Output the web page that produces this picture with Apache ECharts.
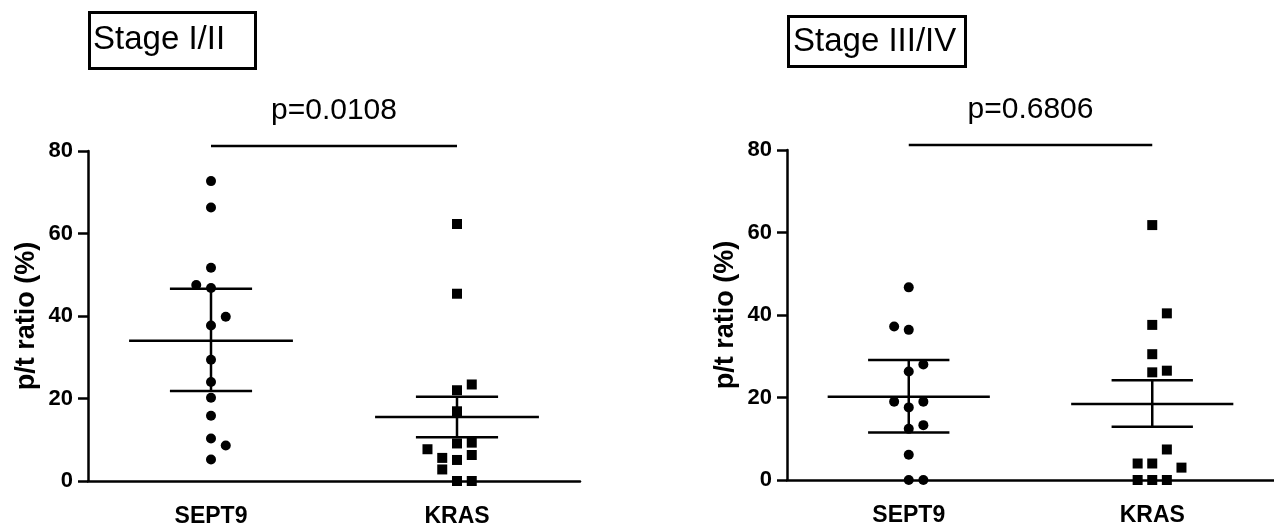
<!DOCTYPE html>
<html>
<head>
<meta charset="utf-8">
<script src="https://cdn.jsdelivr.net/npm/echarts@6/dist/echarts.min.js"></script>
<style>
html,body{margin:0;padding:0;background:#fff;}
#chart{width:1274px;height:531px;}
</style>
</head>
<body>
<div id="chart"></div>
<script>
// ---- data ----
const categories = ['SEPT9', 'KRAS'];
const panelTitles = ['Stage I/II', 'Stage III/IV'];
const pLabels = ['p=0.0108', 'p=0.6806'];
const yMin = 0, yMax = 80, yStep = 20;
const bracketY = 81.2;

// Stage I/II
const s12_sept9 = [72.7, 66.3, 51.7, 47.5, 46.8, 39.8, 37.7, 29.4, 24.0, 20.2, 15.8, 10.3, 8.6, 5.2];
const s12_sept9_lane = [0, 0, 0, -1, 0, 1, 0, 0, 0, 0, 0, 0, 1, 0];
const s12_kras = [62.3, 45.4, 23.4, 22.0, 16.9, 9.1, 9.3, 7.7, 6.3, 5.6, 5.1, 2.8, 0, 0];
const s12_kras_lane = [0, 0, 1, 0, 0, 0, 1, -2, 1, -1, 0, -1, 0, 1];
const s12_mean = [34.0, 15.5];
const s12_lower = [21.8, 10.6];
const s12_upper = [46.6, 20.4];

// Stage III/IV
const s34_sept9 = [46.7, 37.2, 36.4, 28.0, 26.3, 19.0, 19.0, 17.6, 13.3, 12.4, 6.1, 0, 0];
const s34_sept9_lane = [0, -1, 0, 1, 0, -1, 1, 0, 1, 0, 0, 0, 1];
const s34_kras = [61.8, 40.4, 37.6, 30.5, 26.1, 26.5, 7.4, 4.0, 4.0, 3.0, 0, 0, 0];
const s34_kras_lane = [0, 1, 0, 0, 0, 1, 1, -1, 0, 2, -1, 0, 1];
const s34_mean = [20.2, 18.4];
const s34_lower = [11.5, 12.9];
const s34_upper = [29.1, 24.2];

// ---- styles ----
const FONT = 'Liberation Sans, Arial, sans-serif';
const LANE_W = 0.06;
const MEAN_HALF = 0.333;
const CAP_HALF = 0.167;
const LW = 2.5;

function pts(vals, lanes, cat) {
  return vals.map((v, i) => [cat + 0.5 + lanes[i] * LANE_W, v]);
}

function errSeries(gi, mean, lower, upper) {
  return {
    type: 'custom', xAxisIndex: gi * 2 + 1, yAxisIndex: gi, clip: false, z: 5,
    data: mean.map((m, i) => [i + 0.5, m, lower[i], upper[i]]),
    renderItem: function (params, api) {
      const x = api.value(0), m = api.value(1), lo = api.value(2), hi = api.value(3);
      const s = { stroke: '#000', lineWidth: LW };
      const a = api.coord([x - MEAN_HALF, m]), b = api.coord([x + MEAN_HALF, m]);
      const c1 = api.coord([x - CAP_HALF, hi]), c2 = api.coord([x + CAP_HALF, hi]);
      const d1 = api.coord([x - CAP_HALF, lo]), d2 = api.coord([x + CAP_HALF, lo]);
      const v1 = api.coord([x, lo]), v2 = api.coord([x, hi]);
      return { type: 'group', children: [
        { type: 'line', shape: { x1: a[0], y1: a[1], x2: b[0], y2: b[1] }, style: s },
        { type: 'line', shape: { x1: c1[0], y1: c1[1], x2: c2[0], y2: c2[1] }, style: s },
        { type: 'line', shape: { x1: d1[0], y1: d1[1], x2: d2[0], y2: d2[1] }, style: s },
        { type: 'line', shape: { x1: v1[0], y1: v1[1], x2: v2[0], y2: v2[1] }, style: s }
      ]};
    }
  };
}

function bracketSeries(gi) {
  return {
    type: 'custom', xAxisIndex: gi * 2 + 1, yAxisIndex: gi, clip: false, z: 5,
    data: [[0.5, 1.5, bracketY]],
    renderItem: function (params, api) {
      const p1 = api.coord([api.value(0), api.value(2)]);
      const p2 = api.coord([api.value(1), api.value(2)]);
      return { type: 'group', children: [
        { type: 'line', shape: { x1: p1[0], y1: p1[1], x2: p2[0], y2: p2[1] }, style: { stroke: '#000', lineWidth: LW } },
        { type: 'text', x: (p1[0] + p2[0]) / 2, y: p1[1] - 35,
          style: { text: pLabels[gi], font: '30px ' + FONT, fill: '#000', align: 'center', verticalAlign: 'middle' } }
      ]};
    }
  };
}

function scatter(gi, vals, lanes, cat, symbol) {
  return {
    type: 'scatter', xAxisIndex: gi * 2 + 1, yAxisIndex: gi, symbol: symbol, symbolSize: 10,
    itemStyle: { color: '#000', opacity: 1 }, data: pts(vals, lanes, cat), z: 3, clip: false
  };
}

const grids = [
  { left: 88, top: 151, width: 492, height: 330 },
  { left: 787, top: 150, width: 492, height: 330 }
];

const xAxes = [], yAxes = [];
grids.forEach((g, gi) => {
  xAxes.push({
    type: 'category', gridIndex: gi, data: categories, boundaryGap: true,
    axisLine: { lineStyle: { color: '#000', width: LW } },
    axisTick: { alignWithLabel: true, length: 10, inside: false, lineStyle: { color: '#000', width: LW } },
    axisLabel: { color: '#000', fontFamily: FONT, fontWeight: 'bold', fontSize: 23, margin: 24 },
    splitLine: { show: false }, z: 1
  });
  xAxes.push({ type: 'value', gridIndex: gi, min: 0, max: 2, show: false, splitLine: { show: false } });
  yAxes.push({
    type: 'value', gridIndex: gi, min: yMin, max: yMax, interval: yStep,
    name: 'p/t ratio (%)', nameLocation: 'middle', nameRotate: 90, nameGap: 48,
    nameTextStyle: { color: '#000', fontFamily: FONT, fontWeight: 'bold', fontSize: 27 },
    axisLine: { show: true, lineStyle: { color: '#000', width: LW } },
    axisTick: { show: true, length: 10, lineStyle: { color: '#000', width: LW } },
    axisLabel: { color: '#000', fontFamily: FONT, fontWeight: 'bold', fontSize: 22, margin: 15 },
    splitLine: { show: false }
  });
});

const series = [
  scatter(0, s12_sept9, s12_sept9_lane, 0, 'circle'),
  scatter(0, s12_kras, s12_kras_lane, 1, 'rect'),
  errSeries(0, s12_mean, s12_lower, s12_upper),
  bracketSeries(0),
  scatter(1, s34_sept9, s34_sept9_lane, 0, 'circle'),
  scatter(1, s34_kras, s34_kras_lane, 1, 'rect'),
  errSeries(1, s34_mean, s34_lower, s34_upper),
  bracketSeries(1)
];

const chart = echarts.init(document.getElementById('chart'), null, { renderer: 'canvas' });
chart.setOption({
  animation: false,
  backgroundColor: '#fff',
  grid: grids,
  xAxis: xAxes,
  yAxis: yAxes,
  series: series,
  graphic: [
    { type: 'rect', left: 87, top: 10, shape: { width: 166, height: 56 }, style: { fill: 'none', stroke: '#000', lineWidth: 3 } },
    { type: 'text', left: 93, top: 23, style: { text: panelTitles[0], font: '33px ' + FONT, fill: '#000' } },
    { type: 'rect', left: 786, top: 14, shape: { width: 177, height: 50 }, style: { fill: 'none', stroke: '#000', lineWidth: 3 } },
    { type: 'text', left: 793, top: 25, style: { text: panelTitles[1], font: '33px ' + FONT, fill: '#000' } }
  ]
});
</script>
</body>
</html>
